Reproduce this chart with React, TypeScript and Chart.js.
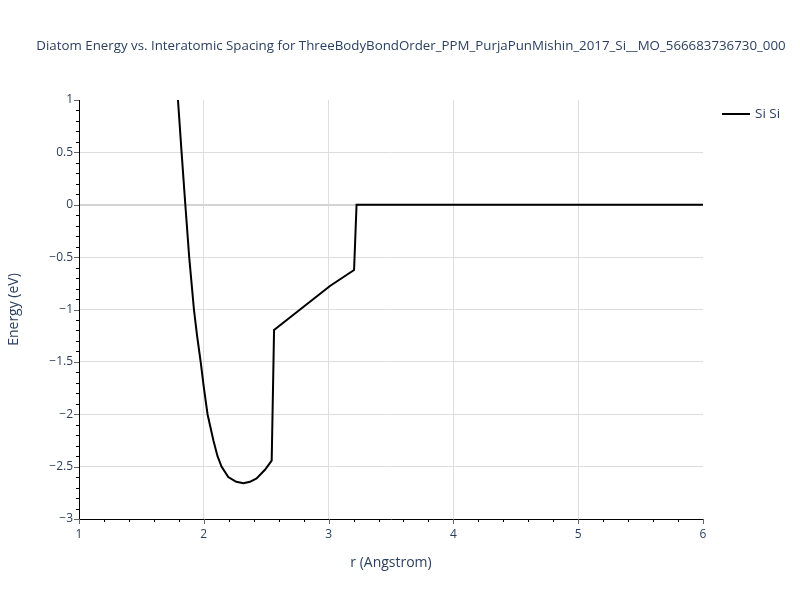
import React, { useEffect, useRef } from "react";
import { Chart, registerables } from "chart.js";

Chart.register(...registerables);

const titleText =
  "Diatom Energy vs. Interatomic Spacing for ThreeBodyBondOrder_PPM_PurjaPunMishin_2017_Si__MO_566683736730_000";
const seriesName = "Si Si";
const xAxisTitle = "r (Angstrom)";
const yAxisTitle = "Energy (eV)";

const rValues = [
  1.77, 1.793, 1.822, 1.852, 1.883, 1.921, 1.946, 1.975, 2.001, 2.03, 2.077,
  2.11, 2.142, 2.196, 2.26, 2.317, 2.37, 2.423, 2.49, 2.544, 2.563, 3.011,
  3.204, 3.224, 4.0, 5.0, 6.0,
];
const energyValues = [
  1.36, 1.0, 0.5, 0.0, -0.5, -1.0, -1.25, -1.5, -1.75, -2.0, -2.25, -2.4, -2.5,
  -2.6, -2.645, -2.659, -2.645, -2.612, -2.53, -2.443, -1.196, -0.776, -0.623,
  0.0, 0.0, 0.0, 0.0,
];

const xMin = 1;
const xMax = 6;
const yMin = -3;
const yMax = 1;

const FONT = "'Open Sans', 'Noto Sans', sans-serif";
const TEXT = "#2a3f5f";

export default function App() {
  const ref = useRef<HTMLCanvasElement | null>(null);

  useEffect(() => {
    if (!ref.current) return;
    const points = rValues.map((r, i) => ({ x: r, y: energyValues[i] }));

    const decor = {
      id: "decor",
      afterDraw(chart: any) {
        const ctx = chart.ctx;
        const xs = chart.scales.x;
        const ys = chart.scales.y;
        const area = chart.chartArea;
        ctx.save();
        for (let i = 0; i <= 25; i++) {
          const v = xMin + i * 0.2;
          const px = Math.round(xs.getPixelForValue(v)) + 0.5;
          const major = i % 5 === 0;
          ctx.strokeStyle = major ? "#666" : "#000";
          ctx.lineWidth = 1;
          ctx.beginPath();
          ctx.moveTo(px, area.bottom);
          ctx.lineTo(px, area.bottom + (major ? 5 : 3));
          ctx.stroke();
        }
        for (let i = 0; i <= 40; i++) {
          const v = yMin + i * 0.1;
          const py = Math.round(ys.getPixelForValue(v)) + 0.5;
          const major = i % 5 === 0;
          ctx.strokeStyle = major ? "#666" : "#000";
          ctx.lineWidth = 1;
          ctx.beginPath();
          ctx.moveTo(area.left, py);
          ctx.lineTo(area.left - (major ? 5 : 3), py);
          ctx.stroke();
        }
        ctx.fillStyle = TEXT;
        ctx.font = `13.3px ${FONT}`;
        ctx.textAlign = "center";
        ctx.textBaseline = "middle";
        ctx.fillText(titleText, 411, 46);
        ctx.font = `14px ${FONT}`;
        ctx.fillText(xAxisTitle, (area.left + area.right) / 2, 563);
        ctx.save();
        ctx.translate(14, (area.top + area.bottom) / 2);
        ctx.rotate(-Math.PI / 2);
        ctx.fillText(yAxisTitle, 0, 0);
        ctx.restore();
        ctx.strokeStyle = "#000";
        ctx.lineWidth = 2;
        ctx.beginPath();
        ctx.moveTo(722, 114);
        ctx.lineTo(750, 114);
        ctx.stroke();
        ctx.fillStyle = TEXT;
        ctx.font = `13.5px ${FONT}`;
        ctx.textAlign = "left";
        ctx.fillText(seriesName, 755, 114);
        ctx.restore();
      },
    };

    const chart = new Chart(ref.current, {
      type: "scatter",
      data: {
        datasets: [
          {
            label: seriesName,
            data: points,
            showLine: true,
            borderColor: "#000",
            backgroundColor: "#000",
            borderWidth: 2,
            pointRadius: 0,
            tension: 0,
          },
        ],
      },
      options: {
        animation: false,
        responsive: false,
        maintainAspectRatio: false,
        layout: { padding: { left: 0, top: 100, right: 97, bottom: 0 } },
        plugins: {
          legend: { display: false },
          title: { display: false },
          tooltip: { enabled: false },
        },
        scales: {
          x: {
            type: "linear",
            min: xMin,
            max: xMax,
            afterFit(scale: any) {
              scale.height = 81;
            },
            border: { color: "#000", width: 1 },
            grid: {
              drawTicks: false,
              color: (c: any) =>
                c.tick && (c.tick.value === xMin || c.tick.value === xMax)
                  ? "rgba(0,0,0,0)"
                  : "#dedede",
              lineWidth: 1,
            },
            ticks: {
              stepSize: 1,
              padding: 8,
              color: TEXT,
              font: { family: FONT, size: 12 },
              maxRotation: 0,
            },
          },
          y: {
            type: "linear",
            min: yMin,
            max: yMax,
            afterFit(scale: any) {
              scale.width = 79;
            },
            border: { color: "#000", width: 1 },
            grid: {
              drawTicks: false,
              color: (c: any) =>
                c.tick && (c.tick.value === yMin || c.tick.value === yMax)
                  ? "rgba(0,0,0,0)"
                  : c.tick && c.tick.value === 0
                  ? "#d3d3d3"
                  : "#dedede",
              lineWidth: (c: any) => (c.tick && c.tick.value === 0 ? 2 : 1),
            },
            ticks: {
              stepSize: 0.5,
              padding: 6,
              color: TEXT,
              font: { family: FONT, size: 12 },
              callback: (v: any) => {
                const n = Number(v);
                return n < 0 ? "\u2212" + String(Math.abs(n)) : String(n);
              },
            },
          },
        },
      },
      plugins: [decor],
    });
    return () => chart.destroy();
  }, []);

  return (
    <div style={{ position: "absolute", left: 0, top: 0, width: 800, height: 600, background: "#fff" }}>
      <canvas ref={ref} width={800} height={600} style={{ width: 800, height: 600 }} />
    </div>
  );
}
